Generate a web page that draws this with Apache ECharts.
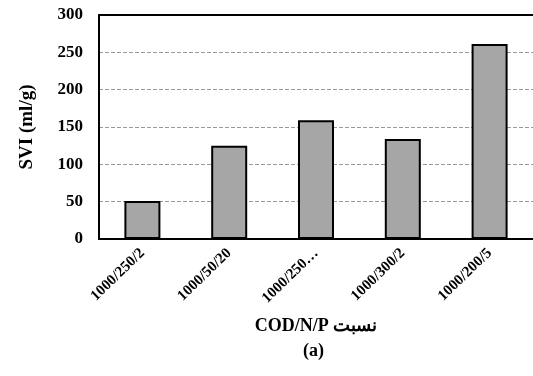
<!DOCTYPE html>
<html><head><meta charset="utf-8">
<script src="https://cdn.jsdelivr.net/npm/echarts@6/dist/echarts.min.js"></script>
<style>html,body{margin:0;padding:0;background:#fff}#c{width:533px;height:376px}</style>
</head><body><div id="c"></div>
<script>
var categories = ['1000/250/2', '1000/50/20', '1000/250…', '1000/300/2', '1000/200/5'];
var sviValues = [51, 125, 159, 134, 261];
var yTicks = [0, 50, 100, 150, 200, 250, 300];
var serif = '"Liberation Serif","Times New Roman",serif';
var chart = echarts.init(document.getElementById('c'));
chart.setOption({
  animation: false,
  grid: {left: 99, top: 15, right: 0, bottom: 137},
  xAxis: [{
    type: 'category', data: categories,
    axisLine: {lineStyle: {color: '#000', width: 2}},
    axisTick: {show: false},
    axisLabel: {rotate: 44, interval: 0, fontFamily: serif, fontWeight: 'bold', fontSize: 15, color: '#000', margin: 12},
    name: 'COD/N/P نسبت', nameLocation: 'middle', nameGap: 78,
    nameTextStyle: {fontFamily: serif, fontWeight: 'bold', fontSize: 18, color: '#000'}
  }, {
    type: 'category', data: categories, position: 'top',
    axisLine: {show: true, lineStyle: {color: '#000', width: 2}},
    axisTick: {show: false}, axisLabel: {show: false}, splitLine: {show: false}
  }],
  yAxis: {
    type: 'value', min: 0, max: 300, interval: 50,
    axisLine: {show: true, lineStyle: {color: '#000', width: 2}},
    axisTick: {show: false},
    splitLine: {lineStyle: {color: '#999', type: 'dashed', width: 1}},
    axisLabel: {fontFamily: serif, fontWeight: 'bold', fontSize: 17, color: '#000', margin: 16,
      formatter: function (v) { return yTicks.indexOf(v) >= 0 ? String(v) : ''; }},
    name: 'SVI (ml/g)', nameLocation: 'middle', nameGap: 62,
    nameTextStyle: {fontFamily: serif, fontWeight: 'bold', fontSize: 19, color: '#000'}
  },
  graphic: [{type: 'text', left: 303, top: 342, style: {text: '(a)', font: 'bold 18px ' + serif, fill: '#000'}}],
  series: [{
    type: 'bar', data: sviValues, barWidth: 36, xAxisIndex: 0,
    itemStyle: {color: '#a6a6a6', borderColor: '#000', borderWidth: 2}
  }]
});
</script></body></html>
